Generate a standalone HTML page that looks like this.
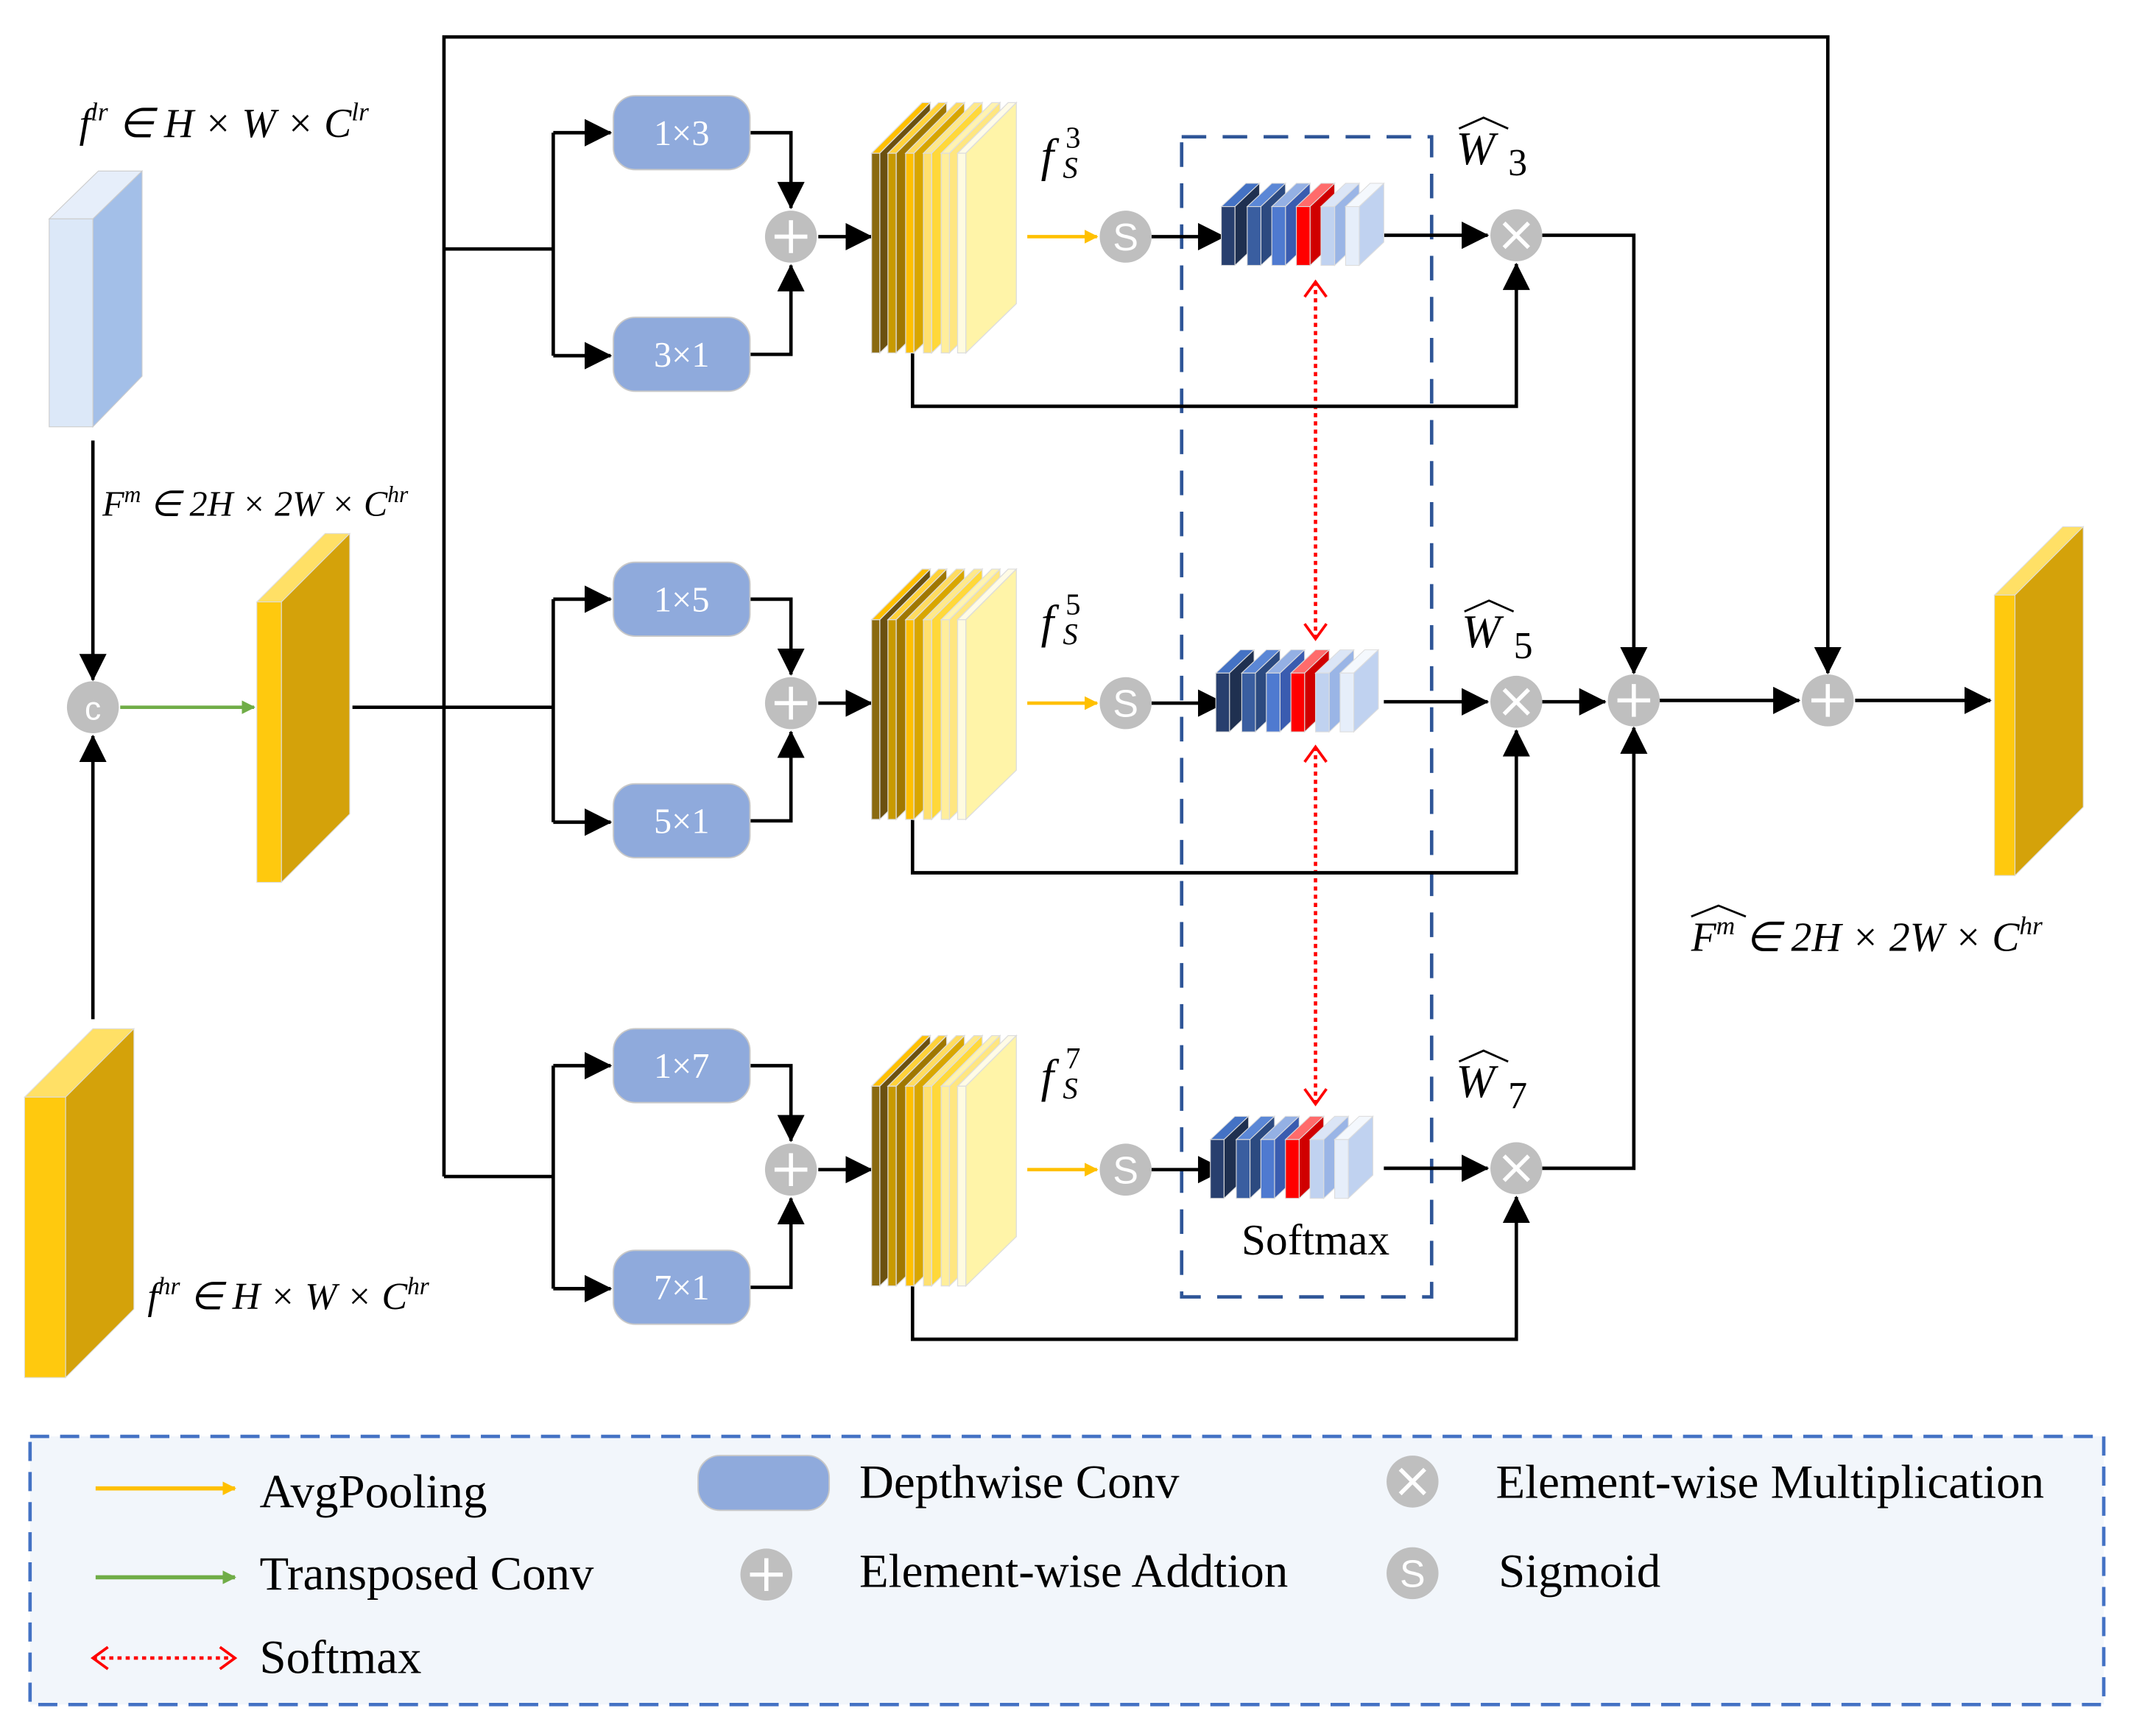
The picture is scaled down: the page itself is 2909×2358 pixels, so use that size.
<!DOCTYPE html>
<html><head><meta charset="utf-8"><style>html,body{margin:0;padding:0;background:#fff}svg{display:block}</style></head>
<body>
<svg width="2909" height="2358" viewBox="0 0 1568 1269" preserveAspectRatio="none" xmlns="http://www.w3.org/2000/svg" font-family="Liberation Serif, serif">
<defs>
<marker id="ay" markerWidth="10" markerHeight="10" refX="9" refY="5" orient="auto" markerUnits="userSpaceOnUse" viewBox="0 0 10 10"><path d="M0,0 L10,5 L0,10 z" fill="#ffc000"/></marker>
<marker id="ag" markerWidth="10" markerHeight="10" refX="9" refY="5" orient="auto" markerUnits="userSpaceOnUse" viewBox="0 0 10 10"><path d="M0,0 L10,5 L0,10 z" fill="#70ad47"/></marker>
<marker id="ar" markerWidth="14" markerHeight="18" refX="12" refY="9" orient="auto-start-reverse" markerUnits="userSpaceOnUse" viewBox="0 0 14 18"><path d="M1,1 L12,9 L1,17" fill="none" stroke="#ff0000" stroke-width="2"/></marker>
<marker id="ab2" markerWidth="20" markerHeight="20" refX="19" refY="10" orient="auto" markerUnits="userSpaceOnUse" viewBox="0 0 20 20"><path d="M0,0 L20,10 L0,20 z" fill="#000"/></marker>
<g id="fstack">
 <g stroke="#ddd" stroke-width="0.7">
 <polygon points="638,112 644,112 681,75 675,75" fill="#ffc000"/><polygon points="644,112 681,75 681,222 644,258" fill="#6b5010"/><rect x="638" y="112" width="6" height="146" fill="#8a6a10"/>
 <polygon points="650,112 656,112 693,75 687,75" fill="#ffd23a"/><polygon points="656,112 693,75 693,222 656,258" fill="#a07800"/><rect x="650" y="112" width="6" height="146" fill="#c89a00"/>
 <polygon points="663,112 669,112 706,75 700,75" fill="#ffdc60"/><polygon points="669,112 706,75 706,222 669,258" fill="#d8a600"/><rect x="663" y="112" width="6" height="146" fill="#ffc000"/>
 <polygon points="676,112 682,112 719,75 713,75" fill="#ffe98a"/><polygon points="682,112 719,75 719,222 682,258" fill="#ffd83a"/><rect x="676" y="112" width="6" height="146" fill="#ffe070"/>
 <polygon points="689,112 695,112 732,75 726,75" fill="#fff3b0"/><polygon points="695,112 732,75 732,222 695,258" fill="#ffe680"/><rect x="689" y="112" width="6" height="146" fill="#ffee9c"/>
 <polygon points="701,112 707,112 744,75 738,75" fill="#fffbe6"/><polygon points="707,112 744,75 744,222 707,258" fill="#fff4a8"/><rect x="701" y="112" width="6" height="146" fill="#fffbe0"/>
 </g>
</g>
<g id="bstack" stroke="#ddd" stroke-width="0.6">
 <polygon points="894,151 904,151 922,134 912,134" fill="#4472c4"/><polygon points="904,151 922,134 922,177 904,194" fill="#1f3050"/><rect x="894" y="151" width="10" height="43" fill="#283f6e"/>
 <polygon points="913,151 923,151 941,134 931,134" fill="#5b87d6"/><polygon points="923,151 941,134 941,177 923,194" fill="#2c4a80"/><rect x="913" y="151" width="10" height="43" fill="#3a5ea0"/>
 <polygon points="931,151 941,151 959,134 949,134" fill="#94b0e4"/><polygon points="941,151 959,134 959,177 941,194" fill="#3a5cb0"/><rect x="931" y="151" width="10" height="43" fill="#4f7ad0"/>
 <polygon points="949,151 959,151 977,134 967,134" fill="#ff6b6b"/><polygon points="959,151 977,134 977,177 959,194" fill="#d00000"/><rect x="949" y="151" width="10" height="43" fill="#ff0000"/>
 <polygon points="967,151 977,151 995,134 985,134" fill="#dbe5f6"/><polygon points="977,151 995,134 995,177 977,194" fill="#9ab5e6"/><rect x="967" y="151" width="10" height="43" fill="#c0d2f0"/>
 <polygon points="985,151 995,151 1013,134 1003,134" fill="#f4f8fd"/><polygon points="995,151 1013,134 1013,177 995,194" fill="#c0d2f0"/><rect x="985" y="151" width="10" height="43" fill="#e6eefa"/>
</g>
<g id="plus"><circle r="19" fill="#bfbfbf"/><path d="M-12,0 H12 M0,-12 V12" stroke="#fff" stroke-width="3"/></g>
<g id="mul"><circle r="19" fill="#bfbfbf"/><path d="M-9,-9 L9,9 M9,-9 L-9,9" stroke="#fff" stroke-width="3"/></g>
<g id="sig"><circle r="19" fill="#bfbfbf"/><text x="0" y="10" text-anchor="middle" font-family="Liberation Sans, sans-serif" font-size="28" fill="#fff">S</text></g>
</defs>

<polygon points="36,160 68,160 104,125 72,125" fill="#e6eefa" stroke="#ccc" stroke-width="0.6"/>
<polygon points="68,160 104,125 104,275 68,312" fill="#a3bfe8" stroke="#ccc" stroke-width="0.6"/>
<rect x="36" y="160" width="32" height="152" fill="#dce8f8" stroke="#ccc" stroke-width="0.6"/>
<text x="58" y="100" font-size="30" font-style="italic">f<tspan font-size="19" dy="-12">lr</tspan><tspan dy="12"> ∈ H × W × C</tspan><tspan font-size="19" dy="-12">lr</tspan></text>

<line x1="68" y1="322" x2="68" y2="497" stroke="#000" stroke-width="2.5" marker-end="url(#ab2)"/>
<text x="75" y="377" font-size="26" font-style="italic">F<tspan font-size="17" dy="-10">m</tspan><tspan dy="10"> ∈ 2H × 2W × C</tspan><tspan font-size="17" dy="-10">hr</tspan></text>
<circle cx="68" cy="517" r="19" fill="#bfbfbf"/><text x="68" y="526" text-anchor="middle" font-family="Liberation Sans, sans-serif" font-size="24" fill="#fff">c</text>
<line x1="88" y1="517" x2="186" y2="517" stroke="#70ad47" stroke-width="2.5" marker-end="url(#ag)"/>
<line x1="68" y1="745" x2="68" y2="538" stroke="#000" stroke-width="2.5" marker-end="url(#ab2)"/>

<polygon points="188,440 206,440 256,390 238,390" fill="#ffe066" stroke="#ddd" stroke-width="0.6"/>
<polygon points="206,440 256,390 256,595 206,645" fill="#d4a20a" stroke="#ddd" stroke-width="0.6"/>
<rect x="188" y="440" width="18" height="205" fill="#ffc90e" stroke="#ddd" stroke-width="0.6"/>
<polygon points="18,802 48,802 98,752 68,752" fill="#ffe066" stroke="#ddd" stroke-width="0.6"/>
<polygon points="48,802 98,752 98,957 48,1007" fill="#d4a20a" stroke="#ddd" stroke-width="0.6"/>
<rect x="18" y="802" width="30" height="205" fill="#ffc90e" stroke="#ddd" stroke-width="0.6"/>
<text x="108" y="957" font-size="28" font-style="italic">f<tspan font-size="18" dy="-11">hr</tspan><tspan dy="11"> ∈ H × W × C</tspan><tspan font-size="18" dy="-11">hr</tspan></text>
<polygon points="1460,435 1475,435 1525,385 1510,385" fill="#ffe066" stroke="#ddd" stroke-width="0.6"/>
<polygon points="1475,435 1525,385 1525,590 1475,640" fill="#d4a20a" stroke="#ddd" stroke-width="0.6"/>
<rect x="1460" y="435" width="15" height="205" fill="#ffc90e" stroke="#ddd" stroke-width="0.6"/>
<text x="1238" y="695" font-size="30" font-style="italic">F<tspan font-size="19" dy="-12">m</tspan><tspan dy="12"> ∈ 2H × 2W × C</tspan><tspan font-size="19" dy="-12">hr</tspan></text>
<path d="M1238,670 L1258,662 L1278,670" fill="none" stroke="#000" stroke-width="1.5"/>

<g stroke="#000" stroke-width="2.5" fill="none">
<path d="M258,517 H405"/>
<path d="M325,860 V27 H1338 V492" marker-end="url(#ab2)"/>
<path d="M325,182 H405"/>
<path d="M325,860 H405"/>
<path d="M1215,512 H1317" marker-end="url(#ab2)"/>
<path d="M1358,512 H1457" marker-end="url(#ab2)"/>
<path d="M1129,172 H1196 V492" marker-end="url(#ab2)"/>
<path d="M1129,513 H1175" marker-end="url(#ab2)"/>
<path d="M1129,854 H1196 V532" marker-end="url(#ab2)"/>
</g>
<use href="#plus" x="1196" y="512"/>
<use href="#plus" x="1338" y="512"/>

<rect x="865" y="100" width="183" height="848" fill="none" stroke="#2e5597" stroke-width="2.5" stroke-dasharray="18,12"/>
<text x="963" y="917" text-anchor="middle" font-size="32">Softmax</text>
<g stroke="#ff0000" stroke-width="2.5" stroke-dasharray="3,3" fill="none">
<line x1="963" y1="206" x2="963" y2="467" marker-start="url(#ar)" marker-end="url(#ar)"/>
<line x1="963" y1="546" x2="963" y2="807" marker-start="url(#ar)" marker-end="url(#ar)"/>
</g>

<g id="row">
 <g stroke="#000" stroke-width="2.5" fill="none">
  <path d="M405,97 V260"/>
  <path d="M405,97 H447" marker-end="url(#ab2)"/>
  <path d="M405,260 H447" marker-end="url(#ab2)"/>
  <path d="M549,97 H579 V152" marker-end="url(#ab2)"/>
  <path d="M549,259 H579 V194" marker-end="url(#ab2)"/>
  <path d="M599,173 H638" marker-end="url(#ab2)"/>
  <path d="M843,173 H896" marker-end="url(#ab2)"/>
  <path d="M1013,172 H1089" marker-end="url(#ab2)"/>
  <path d="M668,258 V297 H1110 V193" marker-end="url(#ab2)"/>
 </g>
 <rect x="449" y="70" width="100" height="54" rx="16" fill="#8faadc" stroke="#c8c8c8" stroke-width="1"/>
 <rect x="449" y="232" width="100" height="54" rx="16" fill="#8faadc" stroke="#c8c8c8" stroke-width="1"/>
 <use href="#plus" x="579" y="173"/>
 <use href="#fstack"/>
 <line x1="752" y1="173" x2="803" y2="173" stroke="#ffc000" stroke-width="2.5" marker-end="url(#ay)"/>
 <use href="#sig" x="824" y="173"/>
 <use href="#mul" x="1110" y="172"/>
</g>
<use href="#row" y="341"/>
<use href="#row" y="682"/>
<use href="#bstack"/>
<use href="#bstack" x="-4" y="341"/>
<use href="#bstack" x="-8" y="682"/>

<g fill="#fff" font-size="26" text-anchor="middle">
<text x="499" y="106">1×3</text><text x="499" y="268">3×1</text>
<text x="499" y="447">1×5</text><text x="499" y="609">5×1</text>
<text x="499" y="788">1×7</text><text x="499" y="950">7×1</text>
</g>

<g font-size="34" font-style="italic">
<text x="762" y="125">f</text><text x="780" y="108" font-size="22" font-style="normal">3</text><text x="778" y="130" font-size="22">S</text>
<text x="762" y="466">f</text><text x="780" y="449" font-size="22" font-style="normal">5</text><text x="778" y="471" font-size="22">S</text>
<text x="762" y="798">f</text><text x="780" y="781" font-size="22" font-style="normal">7</text><text x="778" y="803" font-size="22">S</text>
<text x="1066" y="120">W</text><text x="1104" y="128" font-size="28" font-style="normal">3</text>
<text x="1070" y="473">W</text><text x="1108" y="481" font-size="28" font-style="normal">5</text>
<text x="1066" y="802">W</text><text x="1104" y="810" font-size="28" font-style="normal">7</text>
</g>
<g fill="none" stroke="#000" stroke-width="1.5">
<path d="M1068,94 L1086,86 L1104,94"/>
<path d="M1072,447 L1090,439 L1108,447"/>
<path d="M1068,776 L1086,768 L1104,776"/>
</g>

<rect x="22" y="1050" width="1518" height="196" fill="#f2f6fb" stroke="#4472c4" stroke-width="2.5" stroke-dasharray="14,8"/>
<line x1="70" y1="1088" x2="172" y2="1088" stroke="#ffc000" stroke-width="3" marker-end="url(#ay)"/>
<line x1="70" y1="1153" x2="172" y2="1153" stroke="#70ad47" stroke-width="3" marker-end="url(#ag)"/>
<line x1="68" y1="1212" x2="172" y2="1212" stroke="#ff0000" stroke-width="2.5" stroke-dasharray="3,3" marker-start="url(#ar)" marker-end="url(#ar)"/>
<rect x="511" y="1064" width="96" height="40" rx="16" fill="#8faadc" stroke="#c8c8c8"/>
<use href="#plus" x="561" y="1151"/>
<use href="#mul" x="1034" y="1083"/>
<use href="#sig" x="1034" y="1150"/>
<g font-size="35">
<text x="190" y="1102">AvgPooling</text>
<text x="190" y="1162">Transposed Conv</text>
<text x="190" y="1223">Softmax</text>
<text x="629" y="1095">Depthwise Conv</text>
<text x="629" y="1160">Element-wise Addtion</text>
<text x="1095" y="1095">Element-wise Multiplication</text>
<text x="1097" y="1160">Sigmoid</text>
</g>
</svg>
</body></html>
